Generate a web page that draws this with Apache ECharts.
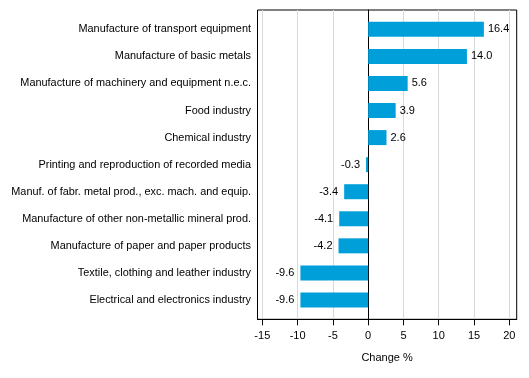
<!DOCTYPE html>
<html><head><meta charset="utf-8">
<script src="https://cdn.jsdelivr.net/npm/echarts@6/dist/echarts.min.js"></script>
<style>html,body{margin:0;padding:0;background:#fff}#c{width:529px;height:378px}</style>
</head><body><div id="c"></div>
<script>
const categories = [
  "Manufacture of transport equipment",
  "Manufacture of basic metals",
  "Manufacture of machinery and equipment n.e.c.",
  "Food industry",
  "Chemical industry",
  "Printing and reproduction of recorded media",
  "Manuf. of fabr. metal prod., exc. mach. and equip.",
  "Manufacture of other non-metallic mineral prod.",
  "Manufacture of paper and paper products",
  "Textile, clothing and leather industry",
  "Electrical and electronics industry"
];
const values = [16.4, 14.0, 5.6, 3.9, 2.6, -0.3, -3.4, -4.1, -4.2, -9.6, -9.6];
const tickValues = [-15, -10, -5, 0, 5, 10, 15, 20];
const xMin = -15.68, xMax = 21.05;

const font = "'Liberation Sans', Arial, sans-serif";
const chart = echarts.init(document.getElementById('c'), null, {renderer: 'canvas'});
chart.setOption({
  animation: false,
  grid: [
    {left: 257.5, right: 12.3, top: 10, bottom: 58.7, show: true, borderColor: '#000', borderWidth: 1, containLabel: false},
    {left: 257.5, right: 12.3, top: 15.8, bottom: 64.5, containLabel: false}
  ],
  xAxis: [{
    gridIndex: 0, type: 'value', min: xMin, max: xMax,
    name: 'Change %', nameLocation: 'middle', nameGap: 33,
    nameTextStyle: {fontFamily: font, fontSize: 11, color: '#000'},
    axisLine: {show: true, onZero: false, lineStyle: {color: '#000'}},
    axisTick: {show: true, length: 6, customValues: tickValues, lineStyle: {color: '#000'}},
    axisLabel: {customValues: tickValues, margin: 11, fontFamily: font, fontSize: 11, color: '#000'},
    splitLine: {show: true, lineStyle: {color: '#d9d9d9', width: 1}}
  }, {
    gridIndex: 1, type: 'value', min: xMin, max: xMax, show: false
  }],
  yAxis: [{
    gridIndex: 0, type: 'value', min: 0, max: 1,
    axisLine: {show: true, onZero: true, lineStyle: {color: '#000'}},
    axisTick: {show: false}, axisLabel: {show: false}, splitLine: {show: false}
  }, {
    gridIndex: 1, type: 'category', data: categories, inverse: true,
    axisLine: {show: false}, axisTick: {show: false}, splitLine: {show: false},
    axisLabel: {margin: 6.5, fontFamily: font, fontSize: 10.9, color: '#000'}
  }],
  series: [{
    type: 'bar', xAxisIndex: 1, yAxisIndex: 1,
    data: values.map(v => ({value: v, label: v >= 0 ? {position: 'right', distance: 4} : {position: 'left', distance: 6}})),
    barWidth: 15,
    itemStyle: {color: '#009fda'},
    label: {show: true, fontFamily: font, fontSize: 11, color: '#000', formatter: p => p.value.toFixed(1)}
  }]
});
</script></body></html>
